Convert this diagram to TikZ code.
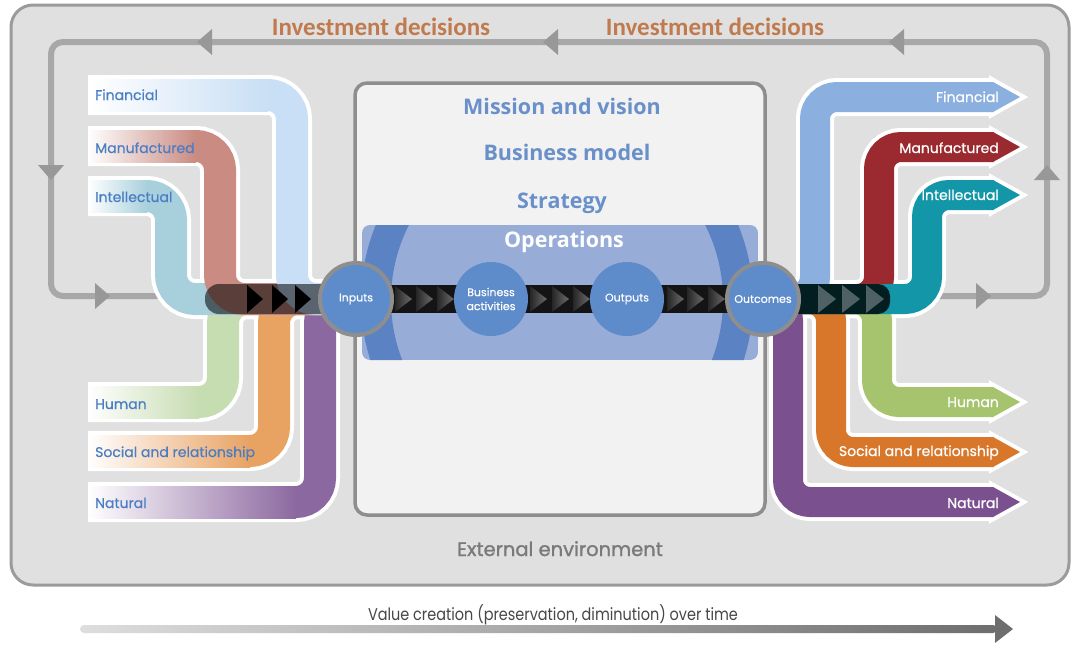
\documentclass[tikz,border=0pt]{standalone}
\usepackage{fontspec}
\setmainfont{Poppins}
\newfontfamily\osans{Open Sans}
\newfontfamily\calib{Carlito}
\newfontfamily\fcond{Poppins}[FakeStretch=0.85]
\newfontfamily\flbl{Poppins}[FakeBold=0.6]
\newfontfamily\fmed{Poppins}[FakeBold=1.3]
\definecolor{frameF}{HTML}{E0E0E0}
\definecolor{frameD}{HTML}{9B9B9B}
\definecolor{loopc}{HTML}{A8A8A8}
\definecolor{loopa}{HTML}{989898}
\definecolor{invc}{HTML}{C07A4E}
\definecolor{boxF}{HTML}{F2F2F2}
\definecolor{boxD}{HTML}{8E8E8E}
\definecolor{txtB}{HTML}{6A90CA}
\definecolor{opsL}{HTML}{97ACD7}
\definecolor{opsD}{HTML}{5B82C3}
\definecolor{circF}{HTML}{5E8CCB}
\definecolor{lblB}{HTML}{4A7DC4}
\definecolor{lFin}{HTML}{C9DFF5}
\definecolor{lMan}{HTML}{C98B82}
\definecolor{lInt}{HTML}{A8D0DC}
\definecolor{lHum}{HTML}{C6DCB1}
\definecolor{lSoc}{HTML}{E8A262}
\definecolor{lNat}{HTML}{8C68A0}
\definecolor{rFin}{HTML}{8BAFDE}
\definecolor{rMan}{HTML}{9A2A2F}
\definecolor{rInt}{HTML}{1396A8}
\definecolor{rHum}{HTML}{A6C46E}
\definecolor{rSoc}{HTML}{D8772A}
\definecolor{rNat}{HTML}{7A518E}
\tikzset{
  lbl/.style={anchor=base west, text=lblB, font=\flbl\fontsize{14}{16}\selectfont, inner sep=0pt},
  rlbl/.style={anchor=base east, text=white, font=\flbl\fontsize{14}{16}\selectfont, inner sep=0pt},
  ctitle/.style={anchor=base, text=txtB, font=\osans\bfseries\fontsize{21.5}{24}\selectfont, inner sep=0pt},
  capnode/.style={circle, fill=circF, minimum size=74pt, inner sep=0pt, text=white, font=\flbl\fontsize{11}{14}\selectfont, align=center},
  ringnode/.style={capnode, draw=boxD, line width=4pt, minimum size=72pt},
  invtext/.style={anchor=base, text=invc, font=\calib\bfseries\fontsize{25}{28}\selectfont, inner sep=0pt},
  looparrow/.style={fill=loopa},
  chevron/.style={left color=black!85, right color=black!58},
}
% left ribbons: #1 = y of horizontal centre line, #2 = x of vertical centre line, #3 colour
\newcommand\ribLout[2]{\draw[white, line width=40pt, rounded corners=24pt] (88,#1) -- (#2,#1) -- (#2,299) -- (356,299);}
\newcommand\ribLfill[3]{\draw[#3, line width=32pt, rounded corners=24pt] (88,#1) -- (#2,#1) -- (#2,299) -- (356,299);
  \shade[left color=white, right color=#3] (88,{#1-16}) rectangle ({#2-24},{#1+16});}
% right ribbons
\newcommand\ribRout[2]{\draw[white, line width=38pt, rounded corners=22pt] (763,299) -- (#2,299) -- (#2,#1) -- (993,#1);
  \draw[white, line width=8pt] (993,{#1-15}) -- (1020,#1) -- (993,{#1+15}) -- cycle;}
\newcommand\ribRfill[3]{\draw[#3, line width=30pt, rounded corners=22pt] (763,299) -- (#2,299) -- (#2,#1) -- (993.5,#1);
  \fill[#3] (993,{#1-15}) -- (1020,#1) -- (993,{#1+15}) -- cycle;}
\begin{document}
\begin{tikzpicture}[x=1pt,y=-1pt]
\useasboundingbox (0,0) rectangle (1072,645);
\fill[white] (0,0) rectangle (1072,645);
% outer frame
\draw[frameD, fill=frameF, line width=3pt, rounded corners=22pt] (11,5) rectangle (1069,585);
% investment loop
\draw[loopc, line width=6pt, rounded corners=12pt] (165,296) -- (51,296) -- (51,42) -- (1047,42) -- (1047,296) -- (935,296);
\fill[looparrow] (197,42) -- (212,29) -- (212,55) -- cycle;
\fill[looparrow] (543,42) -- (558,29) -- (558,55) -- cycle;
\fill[looparrow] (889,42) -- (904,29) -- (904,55) -- cycle;
\fill[looparrow] (51,180) -- (38,165) -- (64,165) -- cycle;
\fill[looparrow] (110,296) -- (95,283) -- (95,309) -- cycle;
\fill[looparrow] (1047,165) -- (1034,180) -- (1060,180) -- cycle;
\fill[looparrow] (991,296) -- (976,283) -- (976,309) -- cycle;
\node[invtext] (inv1) at (381,35) {Investment decisions};
\node[invtext] (inv2) at (715,35) {Investment decisions};
% central box
\draw[boxD, fill=boxF, line width=3.5pt, rounded corners=12pt] (355,83) rectangle (765,515);
\begin{scope}
  \clip[rounded corners=8pt] (362,225) rectangle (758,360);
  \fill[opsL] (362,225) rectangle (758,360);
  \fill[opsD, even odd rule] (557,300) circle[radius=196pt] (557,300) circle[radius=166pt];
\end{scope}
\node[ctitle] (mission) at (562,114) {Mission and vision};
\node[ctitle] (bmodel) at (567,160) {Business model};
\node[ctitle] (strategy) at (562,208) {Strategy};
\node[ctitle, text=white] (ops) at (564,247) {Operations};
% ribbon outlines
\ribLout{95}{292}
\ribLout{146}{220}
\ribLout{196}{171}
\ribLout{402}{223}
\ribLout{451}{274}
\ribLout{502}{320}
\ribRout{97}{815}
\ribRout{147}{879}
\ribRout{195}{927}
\ribRout{402}{877}
\ribRout{452}{831}
\ribRout{502}{788}
% ribbon fills
\ribLfill{502}{320}{lNat}
\ribLfill{451}{274}{lSoc}
\ribLfill{402}{223}{lHum}
\ribLfill{196}{171}{lInt}
\ribLfill{146}{220}{lMan}
\ribLfill{95}{292}{lFin}
\ribRfill{502}{788}{rNat}
\ribRfill{452}{831}{rSoc}
\ribRfill{402}{877}{rHum}
\ribRfill{97}{815}{rFin}
\ribRfill{147}{879}{rMan}
\ribRfill{195}{927}{rInt}
% dark overlays in chain
\fill[black, opacity=0.55, rounded corners=14pt] (205,284) rectangle (345,314);
\fill[black] (247,285) -- (263,299) -- (247,313) -- cycle;
\fill[black] (272,285) -- (288,299) -- (272,313) -- cycle;
\fill[black] (295,285) -- (311,299) -- (295,313) -- cycle;
\fill[black, opacity=0.8, rounded corners=12pt] (780,284) rectangle (890,314);
\fill[white, opacity=0.3] (818,285) -- (836,299) -- (818,313) -- cycle;
\fill[white, opacity=0.3] (842,285) -- (860,299) -- (842,313) -- cycle;
\fill[white, opacity=0.3] (866,285) -- (884,299) -- (866,313) -- cycle;
% central chain
\coordinate (cin) at (356,299);
\coordinate (cba) at (491,299);
\coordinate (cout) at (627,299);
\coordinate (coc) at (763,299);
\draw[line width=28pt, black!92] (cin) -- (coc);
\foreach \x in {395,416,437,530,552,573,667,687,708}
  \shade[chevron] (\x,286) -- ({\x+17},299) -- (\x,312) -- cycle;
\node[ringnode] (inputs) at (cin) {Inputs};
\node[capnode] (bact) at (cba) {Business\\activities};
\node[capnode] (outputs) at (cout) {Outputs};
\node[ringnode] (outcomes) at (coc) {Outcomes};
% labels
\node[lbl] (lfin) at (95,100) {Financial};
\node[lbl] (lman) at (95,153) {Manufactured};
\node[lbl] (lint) at (95,202) {Intellectual};
\node[lbl] (lhum) at (95,409) {Human};
\node[lbl] (lsoc) at (95,457) {Social and relationship};
\node[lbl] (lnat) at (95,508) {Natural};
\node[rlbl] (rfin) at (999,102) {Financial};
\node[rlbl] (rman) at (999,153) {Manufactured};
\node[rlbl] (rint) at (999,200) {Intellectual};
\node[rlbl] (rhum) at (999,407) {Human};
\node[rlbl] (rsoc) at (999,456) {Social and relationship};
\node[rlbl] (rnat) at (999,508) {Natural};
% bottom
\node[anchor=base, text=black!52, font=\fmed\fontsize{19.5}{22}\selectfont, inner sep=0pt] (extenv) at (560,556) {External environment};
\node[anchor=base, text=black!72, font=\fcond\fontsize{17}{20}\selectfont, inner sep=0pt] (valtxt) at (553,620) {Value creation (preservation, diminution) over time};
\shade[left color=black!13, right color=black!57, rounded corners=4pt] (80,625) rectangle (997,633);
\fill[black!57] (995,615) -- (1013,629) -- (995,643) -- cycle;
\end{tikzpicture}
\end{document}
